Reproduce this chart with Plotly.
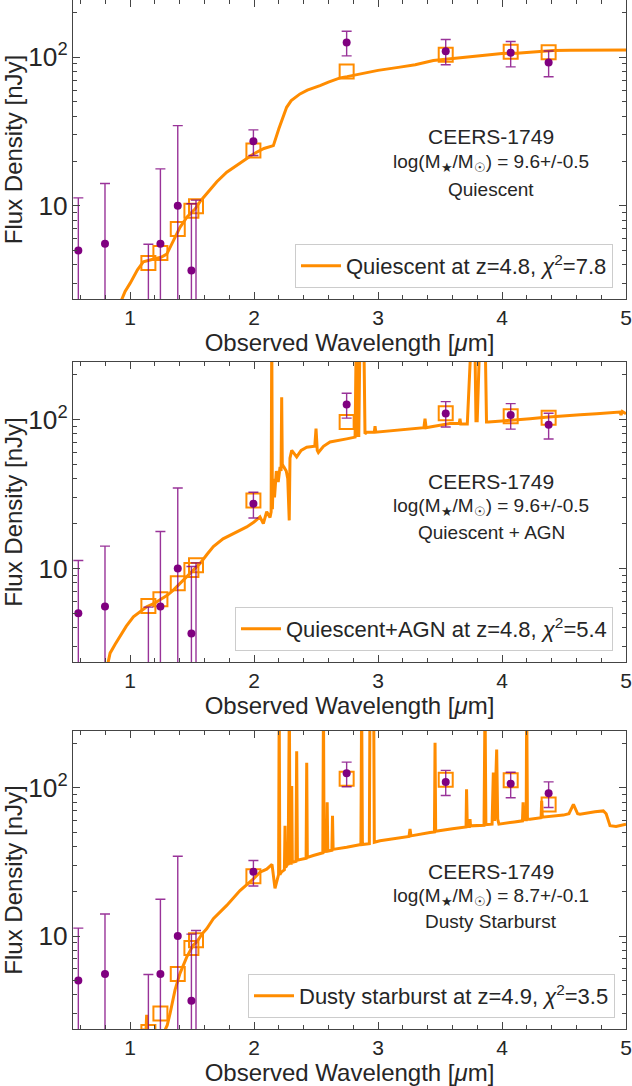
import plotly.graph_objects as go
from plotly.subplots import make_subplots

# ---------------- Observed photometry (same in all panels) ----------------
wl_obs = [0.583, 0.798, 1.148, 1.245, 1.385, 1.495, 1.532, 1.995, 2.747, 3.546, 4.070, 4.376]
flux_obs = [5.0, 5.55, 0.5, 5.55, 10.0, 3.66, 0.5, 27.2, 125.7, 109.7, 107.0, 92.0]
flux_hi = [11.3, 14.1, 5.5, 17.7, 34.6, 10.3, 10.9, 32.4, 149.6, 131.6, 127.6, 110.0]
flux_lo = [-5.0, -5.0, -5.0, -5.0, -5.0, -5.0, -5.0, 21.8, 102.0, 88.9, 86.0, 73.8]

# ---------------- Model photometry (open squares) ----------------
mod_phot_q = [0.4, 1.2, 4.11, 4.8, 6.97, 9.25, 9.9, 23.5, 80.0, 103.7, 108.7, 108.0]
mod_phot_agn = [0.6, 1.9, 5.6, 6.2, 7.94, 9.75, 10.5, 28.6, 96.0, 110.0, 105.0, 102.6]
mod_phot_dsb = [0.3, 0.5, 2.25, 3.0, 5.53, 8.3, 9.36, 25.3, 115.6, 113.8, 112.6, 77.4]

# ---------------- Model spectra ----------------
q_wl = [0.90, 0.927, 0.96, 1.0, 1.027, 1.06, 1.107, 1.15, 1.2, 1.25, 1.296, 1.34, 1.403, 1.46,
        1.524, 1.57, 1.618, 1.70, 1.78, 1.88, 1.995, 2.08, 2.156, 2.20, 2.263, 2.30, 2.371,
        2.43, 2.506, 2.532, 2.60, 2.694, 2.75, 2.80, 2.85, 2.909, 3.0, 3.177, 3.3, 3.446, 3.55,
        3.715, 3.85, 3.93, 4.0, 4.118, 4.25, 4.414, 4.55, 4.71, 4.85, 5.0]
q_fl = [2.0, 2.3, 2.65, 3.0, 3.29, 3.7, 4.19, 4.3, 4.4, 4.5, 4.72, 5.6, 7.15, 8.4,
        9.5, 10.8, 12.1, 14.5, 16.8, 19.2, 22.3, 24.3, 25.4, 33.0, 46.0, 51.0, 56.6,
        60.0, 62.8, 64.4, 68.0, 72.6, 74.0, 75.4, 77.5, 79.3, 81.5, 85.7, 89.0, 95.0, 97.0,
        100.0, 102.5, 104.0, 106.0, 106.4, 108.5, 111.0, 111.5, 112.0, 112.0, 112.0]

agn_wl = [0.80, 0.839, 0.88, 0.919, 0.97, 1.027, 1.08, 1.134, 1.19, 1.242, 1.30, 1.349, 1.40,
          1.457, 1.51, 1.565, 1.62, 1.672, 1.75, 1.833, 1.941, 2.0, 2.048, 2.075, 2.102, 2.129,
          2.138, 2.143, 2.148, 2.155, 2.165, 2.18, 2.195, 2.21, 2.218, 2.223, 2.228, 2.24, 2.26,
          2.272, 2.278, 2.284, 2.29, 2.304, 2.344, 2.38, 2.425, 2.49, 2.50, 2.51, 2.519, 2.56,
          2.613, 2.68, 2.747, 2.815, 2.825, 2.835, 2.845, 2.855, 2.885, 2.895, 2.909, 2.97,
          2.976, 2.982, 3.05, 3.151, 3.285, 3.37, 3.379, 3.388, 3.419, 3.5, 3.58, 3.655, 3.661,
          3.667, 3.72, 3.755, 3.78, 3.79, 3.80, 3.823, 3.863, 3.875, 3.89, 4.0, 4.09, 4.226,
          4.35, 4.495, 4.63, 4.763, 4.9, 4.95, 4.96, 4.97, 5.0]
agn_fl = [1.9, 2.7, 3.1, 3.48, 4.1, 4.74, 5.1, 5.53, 5.8, 6.14, 6.6, 7.16, 7.9,
          8.8, 9.8, 10.8, 12.4, 14.0, 15.8, 17.1, 19.0, 20.5, 22.2, 20.0, 24.0, 22.0,
          24.0, 400.0, 25.0, 40.0, 30.0, 45.0, 38.0, 48.0, 45.0, 141.0, 50.0, 48.0, 45.0,
          40.0, 21.0, 21.0, 55.0, 62.0, 56.0, 62.0, 65.0, 66.0, 86.7, 62.0, 60.0, 66.0,
          70.5, 72.0, 74.0, 76.0, 400.0, 78.0, 78.0, 400.0, 400.0, 80.0, 82.0, 82.0,
          90.0, 82.0, 83.0, 84.4, 86.7, 88.0, 101.0, 88.0, 89.0, 91.0, 93.7, 94.0, 101.0,
          93.0, 93.0, 400.0, 400.0, 98.0, 98.0, 400.0, 400.0, 96.0, 96.0, 97.5, 98.5, 101.0,
          103.5, 106.0, 107.5, 109.0, 111.0, 112.0, 107.0, 113.0, 109.0]

dsb_wl = [1.09, 1.10, 1.12, 1.13, 1.134, 1.14, 1.16, 1.27, 1.30, 1.323, 1.363, 1.403, 1.457,
          1.51, 1.538, 1.58, 1.618, 1.672, 1.78, 1.887, 1.995, 2.048, 2.102, 2.13, 2.145, 2.169,
          2.185, 2.198, 2.203, 2.208, 2.22, 2.245, 2.25, 2.255, 2.265, 2.269, 2.275, 2.285, 2.29,
          2.30, 2.304, 2.309, 2.338, 2.344, 2.35, 2.42, 2.425, 2.43, 2.478, 2.555, 2.56, 2.565,
          2.585, 2.59, 2.595, 2.628, 2.633, 2.638, 2.747, 2.862, 2.868, 2.874, 2.93, 2.935, 2.965,
          2.97, 3.016, 3.1, 3.25, 3.258, 3.266, 3.419, 3.455, 3.46, 3.465, 3.60, 3.688, 3.71,
          3.714, 3.72, 3.738, 3.742, 3.746, 3.855, 3.863, 3.87, 3.92, 3.93, 3.94, 3.957, 3.965,
          3.975, 4.1, 4.165, 4.17, 4.175, 4.195, 4.199, 4.205, 4.226, 4.315, 4.32, 4.325, 4.495,
          4.54, 4.576, 4.61, 4.629, 4.75, 4.817, 4.84, 4.871, 4.92, 5.0]
dsb_fl = [2.1, 2.35, 2.25, 2.4, 2.94, 2.3, 2.25, 2.2, 2.5, 3.0, 4.33, 5.6, 7.2,
          8.7, 9.1, 10.3, 11.2, 13.1, 16.1, 20.3, 24.3, 27.0, 28.3, 30.0, 30.5, 21.0,
          24.0, 26.0, 400.0, 26.0, 27.0, 28.0, 55.6, 29.0, 30.0, 40.0, 30.0, 400.0, 31.0,
          31.0, 103.0, 31.5, 32.0, 177.0, 32.5, 33.5, 148.0, 34.0, 35.0, 36.5, 400.0, 37.0,
          37.5, 80.0, 37.5, 38.0, 65.0, 38.5, 39.8, 41.5, 400.0, 41.5, 42.0, 400.0, 400.0,
          43.0, 44.0, 45.0, 47.0, 52.8, 47.5, 50.0, 50.5, 202.0, 51.0, 53.0, 54.0, 54.5,
          98.0, 55.0, 55.0, 61.6, 55.5, 56.0, 400.0, 56.5, 57.0, 127.0, 60.0, 182.0, 61.6,
          57.0, 59.0, 60.0, 80.0, 61.0, 61.0, 400.0, 61.5, 61.6, 63.0, 82.0, 63.5, 65.6,
          67.0, 77.6, 67.0, 66.5, 69.0, 70.0, 67.0, 55.6, 55.0, 57.0]

legend_labels = ["Quiescent at z=4.8, <i>\u03c7</i><sup>2</sup>=7.8",
                 "Quiescent+AGN at z=4.8, <i>\u03c7</i><sup>2</sup>=5.4",
                 "Dusty starburst at z=4.9, <i>\u03c7</i><sup>2</sup>=3.5"]
panel_types = ["Quiescent", "Quiescent + AGN", "Dusty Starburst"]
mass_text = ["9.6+/-0.5", "9.6+/-0.5", "8.7+/-0.1"]

models = [(q_wl, q_fl, mod_phot_q), (agn_wl, agn_fl, mod_phot_agn), (dsb_wl, dsb_fl, mod_phot_dsb)]

FONT = "Liberation Sans, Arial, sans-serif"
TXT = "#262626"
ORANGE = "#FF8C00"
PURPLE = "#800080"
FRAME = "#444444"

fig = make_subplots(rows=3, cols=1)

err_hi = [h - f for h, f in zip(flux_hi, flux_obs)]
err_lo = [f - l for f, l in zip(flux_obs, flux_lo)]

legend_names = ["legend", "legend2", "legend3"]
for i, (mwl, mfl, mph) in enumerate(models):
    r = i + 1
    fig.add_trace(go.Scatter(x=mwl, y=mfl, mode="lines", line=dict(color=ORANGE, width=3),
                             name=legend_labels[i], showlegend=True, legend=legend_names[i]),
                  row=r, col=1)
    fig.add_trace(go.Scatter(x=wl_obs, y=mph, mode="markers",
                             marker=dict(symbol="square-open", size=14, color=ORANGE,
                                         line=dict(width=2, color=ORANGE)),
                             showlegend=False), row=r, col=1)
    fig.add_trace(go.Scatter(x=wl_obs, y=flux_obs, mode="markers",
                             marker=dict(color=PURPLE, size=8),
                             error_y=dict(type="data", symmetric=False, array=err_hi,
                                          arrayminus=err_lo, color="rgba(128,0,128,0.8)",
                                          thickness=1.4, width=5),
                             showlegend=False), row=r, col=1)

# panel geometry in pixels
W, H = 632, 1086
panels_px = [(0, 299), (362, 662), (731, 1029)]
x0, x1 = 73, 626

for i, (t, b) in enumerate(panels_px):
    r = i + 1
    dom = [1 - b / H, 1 - t / H]
    fig.update_xaxes(row=r, col=1, domain=[x0 / W, x1 / W], range=[0.54, 5.0],
                     tickmode="linear", tick0=0, dtick=1, ticks="inside", ticklen=7,
                     tickwidth=1, tickcolor=FRAME, showline=True, linecolor=FRAME,
                     linewidth=1.2, mirror="ticks", showgrid=False, zeroline=False,
                     minor=dict(ticks="inside", dtick=0.2, ticklen=4, tickcolor=FRAME,
                                showgrid=False),
                     tickfont=dict(size=21, color=TXT, family=FONT),
                     title=dict(text="Observed Wavelength [<i>\u03bc</i>m]",
                                font=dict(size=24, color=TXT, family=FONT), standoff=4),
                     automargin=False)
    fig.update_yaxes(row=r, col=1, domain=dom, type="log", range=[0.372, 2.385],
                     dtick=1, exponentformat="power", ticks="inside", ticklen=7,
                     tickwidth=1, tickcolor=FRAME, showline=True, linecolor=FRAME,
                     linewidth=1.2, mirror="ticks", showgrid=False, zeroline=False,
                     minor=dict(ticks="inside", dtick="D1", ticklen=4, tickcolor=FRAME,
                                showgrid=False),
                     tickfont=dict(size=21, color=TXT, family=FONT),
                     title=dict(text="Flux Density [nJy]",
                                font=dict(size=24, color=TXT, family=FONT), standoff=8),
                     automargin=False)

# annotations (text block in each panel)
text_px = [(137, 163, 189), (481.7, 506.7, 532), (871.7, 896.7, 921.7)]
cx = 491 / W
annos = []
for i in range(3):
    y1, y2, y3 = text_px[i]
    common = dict(xref="paper", yref="paper", xanchor="center", yanchor="middle", showarrow=False)
    annos.append(dict(x=cx, y=1 - y1 / H, text="CEERS-1749",
                      font=dict(size=21, color=TXT, family=FONT), **common))
    annos.append(dict(x=cx, y=1 - y2 / H,
                      text="log(M<sub>\u2605</sub>/M<sub>\u2609</sub>) = " + mass_text[i],
                      font=dict(size=19, color=TXT, family=FONT), **common))
    annos.append(dict(x=cx, y=1 - y3 / H, text=panel_types[i],
                      font=dict(size=19, color=TXT, family=FONT), **common))

leg_common = dict(xanchor="right", yanchor="bottom", bgcolor="rgba(255,255,255,0.8)",
                  bordercolor="#cccccc", borderwidth=1, itemwidth=40,
                  font=dict(size=22, color=TXT, family=FONT))
leg_pos = [(613, 288), (613, 651), (615, 1018)]

fig.update_layout(
    width=W, height=H,
    margin=dict(l=0, r=0, t=0, b=0),
    paper_bgcolor="white", plot_bgcolor="white",
    annotations=annos,
    legend=dict(x=leg_pos[0][0] / W, y=1 - leg_pos[0][1] / H, **leg_common),
    legend2=dict(x=leg_pos[1][0] / W, y=1 - leg_pos[1][1] / H, **leg_common),
    legend3=dict(x=leg_pos[2][0] / W, y=1 - leg_pos[2][1] / H, **leg_common),
    font=dict(family=FONT, color=TXT),
)

fig.write_html("out.html")
